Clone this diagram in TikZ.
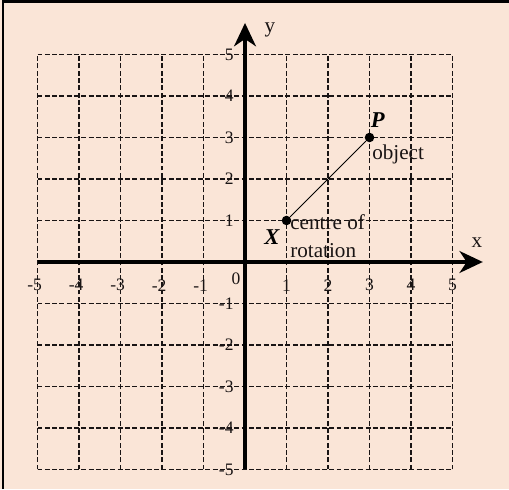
\documentclass[tikz,border=0pt]{standalone}
\usepackage{fontspec}
\setmainfont{Liberation Serif}
\definecolor{gridpeach}{RGB}{250,229,215}
\definecolor{gridink}{RGB}{25,20,20}
\usetikzlibrary{arrows.meta,positioning}

\begin{document}
\begin{tikzpicture}[
  gridline/.style={gridink, line width=0.9pt, dash pattern=on 3.4pt off 1.6pt},
  axisline/.style={black, line width=2.2pt, -{Stealth[length=16pt,width=15pt,inset=5pt]}},
  tick/.style={font=\fontsize{12}{14}\selectfont, text=gridink, inner sep=0pt},
  lbl/.style={font=\fontsize{14.5}{19}\selectfont, text=gridink, inner sep=0pt},
  ptname/.style={font=\fontsize{15.5}{18}\selectfont\bfseries\itshape, inner sep=0pt},
  dot/.style={circle, fill=black, inner sep=0pt, minimum size=0.23cm}
]

% --- Background and frame ---
\fill[gridpeach] (-5.904,-5.470) rectangle (6.361,6.313);
\useasboundingbox (-5.904,-5.470) rectangle (6.361,6.313);
\draw[line width=1.6pt] (-5.83,-5.470) -- (-5.83,6.277) -- (6.361,6.277);

% --- Grid ---
\draw[gridline] (-5,-5) grid (5,5);

% --- Axes ---
\coordinate (xstart) at (-5,0);
\coordinate (xend) at (5.73,0);
\coordinate (ystart) at (0,-5);
\coordinate (yend) at (0,5.76);
\draw[axisline] (xstart) -- (xend);
\draw[axisline] (ystart) -- (yend);
\node[lbl] (xname) at (5.59,0.46) {x};
\node[lbl] (yname) at (0.6,5.6) {y};

% tick labels
\foreach \n in {1,...,5} {
  \node[tick] (xp\n) at (\n,-0.56) {\n};
  \node[tick] (xm\n) at (-\n,-0.56) {\llap{-}\n};
  \node[tick, anchor=east] (yp\n) at (-0.27,\n) {\n};
  \node[tick, anchor=east] (ym\n) at (-0.27,-\n) {-\n};
}
\node[tick] (zero) at (-0.22,-0.4) {0};

% --- Centre and object ---
\node[dot] (X) at (1,1) {};
\node[dot] (P) at (3,3) {};
\draw[line width=0.6pt] (X) -- (P);

\node[ptname, anchor=base] (Xname) at (0.65,0.41) {X};
\node[ptname, anchor=base] (Pname) at (3.2,3.25) {P};
\node[lbl, anchor=base west] (object) at (3.06,2.46) {object};
\node[lbl, anchor=base west] (centre) at (1.085,0.795) {centre of};
\node[lbl, anchor=base west] (rotation) at ([yshift=-0.675cm]centre.base west) {rotation};

\end{tikzpicture}
\end{document}
